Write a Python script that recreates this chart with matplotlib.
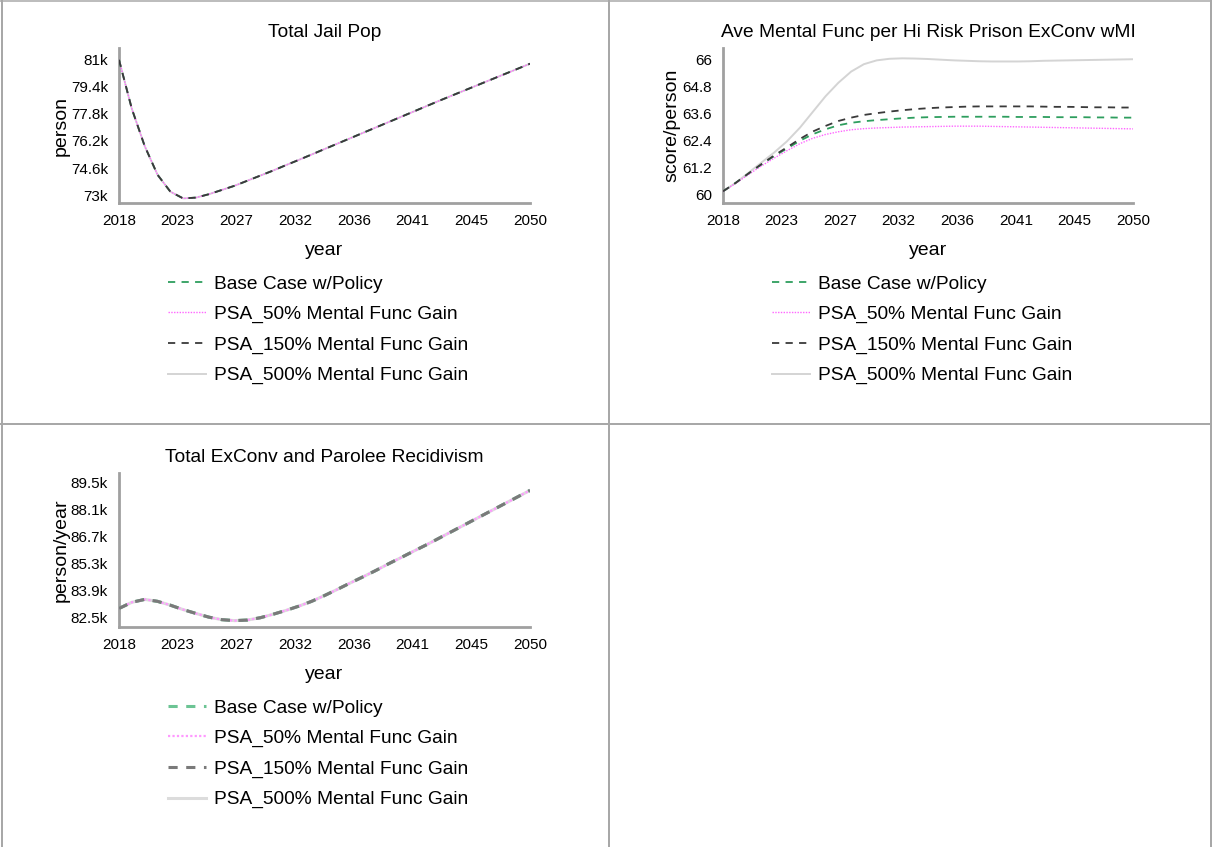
import matplotlib
matplotlib.use('Agg')
import matplotlib.pyplot as plt
from matplotlib.lines import Line2D
from matplotlib.ticker import FuncFormatter
import numpy as np

plt.rcParams['font.family'] = ['Liberation Sans', 'DejaVu Sans']

years = list(range(2018, 2051))
x_ticks = np.linspace(2018, 2050, 8)
x_tick_labels = ['2018', '2023', '2027', '2032', '2036', '2041', '2045', '2050']

series_names = ['Base Case w/Policy', 'PSA_50% Mental Func Gain',
                'PSA_150% Mental Func Gain', 'PSA_500% Mental Func Gain']

# Total Jail Pop (thousand persons) - all runs overlap
jail_pop = [81.0, 78.1, 75.9, 74.2, 73.2, 72.8, 72.85, 73.05, 73.3, 73.55,
            73.85, 74.15, 74.45, 74.77, 75.08, 75.4, 75.72, 76.04, 76.36, 76.68,
            77.0, 77.32, 77.64, 77.96, 78.28, 78.6, 78.91, 79.22, 79.53, 79.84,
            80.15, 80.46, 80.77]

# Ave Mental Func per Hi Risk Prison ExConv wMI (score/person)
mf_base = [60.12, 60.5, 60.91, 61.31, 61.69, 62.03, 62.37, 62.66, 62.88, 63.06,
           63.17, 63.24, 63.29, 63.33, 63.37, 63.4, 63.42, 63.43, 63.44, 63.44,
           63.44, 63.44, 63.44, 63.43, 63.43, 63.43, 63.42, 63.42, 63.42, 63.41,
           63.41, 63.4, 63.4]
mf_psa50 = [60.12, 60.48, 60.87, 61.25, 61.6, 61.93, 62.24, 62.48, 62.65, 62.77,
            62.86, 62.91, 62.94, 62.96, 62.98, 62.99, 63.0, 63.01, 63.02, 63.02,
            63.02, 63.01, 63.0, 62.99, 62.98, 62.97, 62.96, 62.95, 62.94, 62.93,
            62.92, 62.91, 62.9]
mf_psa150 = [60.12, 60.5, 60.92, 61.33, 61.72, 62.08, 62.45, 62.78, 63.03, 63.25,
             63.4, 63.52, 63.6, 63.67, 63.73, 63.78, 63.82, 63.85, 63.87, 63.89,
             63.9, 63.9, 63.9, 63.9, 63.9, 63.89, 63.88, 63.88, 63.87, 63.86,
             63.86, 63.85, 63.85]
mf_psa500 = [60.12, 60.5, 60.95, 61.4, 61.85, 62.35, 62.95, 63.65, 64.35, 64.95,
             65.45, 65.78, 65.95, 66.02, 66.04, 66.03, 66.01, 65.98, 65.95, 65.93,
             65.91, 65.9, 65.9, 65.9, 65.91, 65.93, 65.94, 65.95, 65.96, 65.97,
             65.98, 65.99, 66.0]

# Total ExConv and Parolee Recidivism (thousand persons/year) - all runs overlap
recid = [82.98, 83.3, 83.45, 83.35, 83.15, 82.92, 82.72, 82.53, 82.4, 82.35,
         82.38, 82.5, 82.68, 82.88, 83.1, 83.35, 83.65, 83.97, 84.3, 84.62,
         84.95, 85.3, 85.63, 85.97, 86.3, 86.65, 87.0, 87.35, 87.7, 88.05,
         88.4, 88.75, 89.1]

W, H = 1212, 847


def fig_rect(left, top, right, bottom):
    return [left / W, 1 - bottom / H, (right - left) / W, (bottom - top) / H]


def draw_panel(fig, rect, title, ylabel, data, ylim, yticks, fmt, styles):
    ax = fig.add_axes(rect)
    # draw order: light solid first, dark dashed last
    draw_order = [3, 0, 1, 2]
    for z, idx in enumerate(draw_order):
        color, ls, lw = styles[idx]
        ax.plot(years, data[idx], color=color, linestyle=ls, linewidth=lw,
                label=series_names[idx], zorder=2 + z)
    ax.set_xlim(2018, 2050)
    ax.set_ylim(*ylim)
    ax.set_xticks(x_ticks)
    ax.set_xticklabels(x_tick_labels)
    ax.set_yticks(yticks)
    ax.yaxis.set_major_formatter(FuncFormatter(fmt))
    for side in ['top', 'right']:
        ax.spines[side].set_visible(False)
    for side in ['left', 'bottom']:
        ax.spines[side].set_color('#a0a0a0')
        ax.spines[side].set_linewidth(2)
    ax.tick_params(length=0, labelsize=11, pad=8)
    ax.tick_params(axis='y', pad=8)
    ax.set_title(title, fontsize=13.8, pad=8)
    ax.set_xlabel('year', fontsize=14, labelpad=10)
    ax.set_ylabel(ylabel, fontsize=14, labelpad=1)
    handles, labels = ax.get_legend_handles_labels()
    order = [labels.index(n) for n in series_names]
    ax.legend([handles[i] for i in order], [labels[i] for i in order],
              loc='upper left', frameon=False, fontsize=13.8,
              bbox_to_anchor=(rect[0] + 0.0405, rect[1] - 0.0852),
              bbox_transform=fig.transFigure,
              handlelength=2.0, handletextpad=0.4, labelspacing=0.68,
              borderaxespad=0, borderpad=0)
    return ax


fig = plt.figure(figsize=(W / 100, H / 100), dpi=100)

thin_styles = [('#2e9e5e', (0, (4, 3.5)), 1.3),
               ('#ff66ff', (0, (1, 1)), 1.0),
               ('#3a3a3a', (0, (4, 3.5)), 1.3),
               ('#d4d4d4', '-', 1.4)]
thick_styles = [('#6cc494', (0, (3, 2.8)), 2.2),
                ('#ff99ff', (0, (1, 1)), 1.6),
                ('#7a7a7a', (0, (3, 2.8)), 2.2),
                ('#dcdcdc', '-', 2.2)]

k_fmt = lambda v, p: f'{v:g}k'
plain_fmt = lambda v, p: f'{v:g}'

draw_panel(fig, fig_rect(119, 48, 530, 203), 'Total Jail Pop', 'person',
           [jail_pop] * 4, (72.53, 81.7), np.linspace(73, 81, 6), k_fmt,
           thin_styles)
draw_panel(fig, fig_rect(723, 48, 1133, 203),
           'Ave Mental Func per Hi Risk Prison ExConv wMI', 'score/person',
           [mf_base, mf_psa50, mf_psa150, mf_psa500], (59.6, 66.5),
           np.linspace(60, 66, 6), plain_fmt, thin_styles)
draw_panel(fig, fig_rect(119, 473, 530, 627),
           'Total ExConv and Parolee Recidivism', 'person/year',
           [recid] * 4, (82.02, 90.0), np.linspace(82.5, 89.5, 6), k_fmt,
           thick_styles)

# panel borders
border = '#a8a8a8'
for (x0, y0, x1, y1, lw) in [(2.5, 0, 2.5, H, 2), (0, 1.5, W, 1.5, 1.5),
                              (608.5, 0, 608.5, H, 2), (0, 424, W, 424, 2),
                              (1210.5, 0, 1210.5, H, 2)]:
    fig.add_artist(Line2D([x0 / W, x1 / W], [1 - y0 / H, 1 - y1 / H],
                          color=border, linewidth=lw * 0.72,
                          transform=fig.transFigure))

fig.savefig('out.png', dpi=100)
